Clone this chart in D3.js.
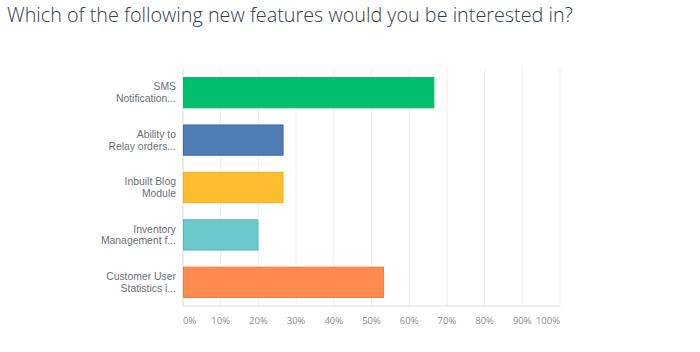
<!DOCTYPE html>
<html>
<head>
<meta charset="utf-8">
<script src="https://cdn.jsdelivr.net/npm/d3@7"></script>
<style>
  body { margin: 0; background: #fff; }
  svg { display: block; }
</style>
</head>
<body>
<svg id="chart"></svg>
<script>
(function() {
  const titleText = 'Which of the following new features would you be interested in?';
  const categories = [
    ['SMS', 'Notification...'],
    ['Ability to', 'Relay orders...'],
    ['Inbuilt Blog', 'Module'],
    ['Inventory', 'Management f...'],
    ['Customer User', 'Statistics i...']
  ];
  const percentValues = [66.67, 26.67, 26.67, 20, 53.33];
  const barColors = ['#00bf6f', '#507cb6', '#fdbd2e', '#6bc8cd', '#ff8b4f'];
  const barStrokes = ['#10b56b', '#3f69a6', '#f3b21a', '#52bcc2', '#f57b3c'];
  const tickValues = [0, 10, 20, 30, 40, 50, 60, 70, 80, 90, 100];

  const svgDim = { w: 700, h: 352 },
    plot = { left: 183, right: 560, top: 69, bottom: 306 };

  const $svg = d3.select('#chart')
    .attr('width', svgDim.w)
    .attr('height', svgDim.h);

  const xScale = d3.scaleLinear()
      .domain([0, 100])
      .range([plot.left, plot.right]),
    yScale = d3.scaleBand()
      .domain(d3.range(categories.length))
      .range([plot.top, plot.bottom])
      .paddingInner(0.34)
      .paddingOuter(0.17);

  $svg.append('text')
    .text(titleText)
    .attr('x', 7)
    .attr('y', 22)
    .attr('font-family', 'Open Sans, sans-serif')
    .attr('font-weight', 300)
    .attr('font-size', 19.8)
    .attr('fill', '#333e48');

  // gridlines
  $svg.append('g')
    .selectAll('line')
    .data(tickValues.slice(1))
    .enter()
    .append('line')
    .attr('x1', (d) => xScale(d))
    .attr('x2', (d) => xScale(d))
    .attr('y1', plot.top)
    .attr('y2', plot.bottom)
    .attr('stroke', '#eeeeee')
    .attr('stroke-width', 1);

  // axis lines
  $svg.append('line')
    .attr('x1', xScale(0)).attr('x2', xScale(0))
    .attr('y1', plot.top).attr('y2', plot.bottom)
    .attr('stroke', '#d9d9d9');
  $svg.append('line')
    .attr('x1', xScale(0)).attr('x2', xScale(100))
    .attr('y1', plot.bottom).attr('y2', plot.bottom)
    .attr('stroke', '#d9d9d9');

  // bars
  $svg.append('g')
    .selectAll('rect')
    .data(percentValues)
    .enter()
    .append('rect')
    .attr('x', xScale(0) + 0.5)
    .attr('y', (d, i) => yScale(i) + 0.5)
    .attr('width', (d) => xScale(d) - xScale(0) - 1)
    .attr('height', yScale.bandwidth() - 1)
    .attr('fill', (d, i) => barColors[i])
    .attr('stroke', (d, i) => barStrokes[i])
    .attr('stroke-width', 1);

  // category labels
  const $labels = $svg.append('g')
    .selectAll('text')
    .data(categories)
    .enter()
    .append('text')
    .attr('text-anchor', 'end')
    .attr('font-family', 'Liberation Sans, Arial, sans-serif')
    .attr('font-size', 10.4)
    .attr('fill', '#6b6f75')
    .attr('transform', (d, i) => 'translate(176,' + (yScale(i) + yScale.bandwidth() / 2) + ')');
  $labels.selectAll('tspan')
    .data((d) => d)
    .enter()
    .append('tspan')
    .attr('x', 0)
    .attr('y', (d, i) => (i === 0 ? -2.3 : 9.6))
    .text((d) => d);

  // x tick labels
  $svg.append('g')
    .selectAll('text')
    .data(tickValues)
    .enter()
    .append('text')
    .text((d) => d + '%')
    .attr('x', (d) => xScale(d) + (d === 100 ? -12 : 0))
    .attr('y', plot.bottom + 18)
    .attr('text-anchor', (d) => (d === 0 ? 'start' : 'middle'))
    .attr('font-family', 'Open Sans, sans-serif')
    .attr('font-size', 9.5)
    .attr('fill', '#8a8e93');
})();
</script>
</body>
</html>
